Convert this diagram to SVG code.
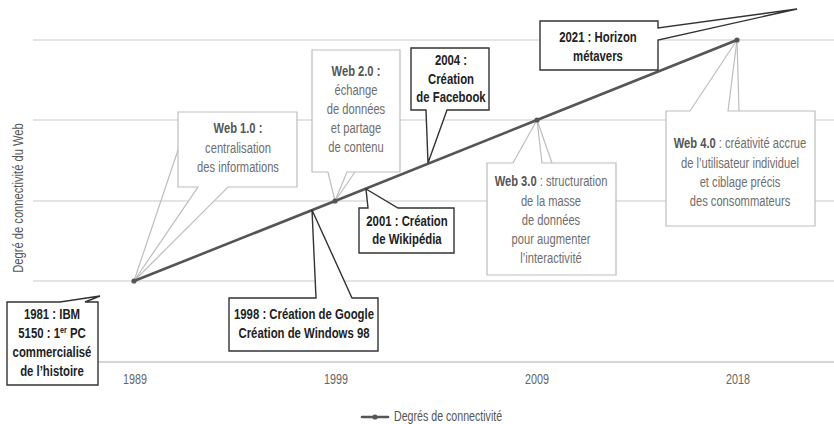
<svg xmlns="http://www.w3.org/2000/svg" width="834" height="424" viewBox="0 0 834 424">
  <style>
    text { font-family: "Liberation Sans", Arial, sans-serif; }
    .grid { stroke: #c9c9c9; stroke-width: 1.2; fill: none; }
    .axis { stroke: #c9c9c9; stroke-width: 1.6; fill: none; }
    .year { font-size: 14px; fill: #666; text-anchor: middle; }
    .ylab { font-size: 14px; fill: #555; text-anchor: middle; }
    .soft { fill: #fff; stroke: #bdbdbd; stroke-width: 1.2; }
    .softline { stroke: #bdbdbd; stroke-width: 1.2; fill: none; }
    .softtxt { font-size: 14.5px; fill: #6e6e6e; text-anchor: middle; }
    .softtxt .b { font-weight: bold; fill: #555; }
    .dark { fill: #fff; stroke: #333; stroke-width: 1.4; }
    .darktxt { font-size: 14.2px; font-weight: bold; fill: #222; text-anchor: middle; }
    .series { stroke: #555; stroke-width: 2.6; fill: none; stroke-linecap: round; }
    .pt { fill: #555; }
    .legend { font-size: 14px; fill: #555; }
  </style>

  <!-- horizontal grid and base axis -->
  <g id="grid">
    <line class="grid" x1="33" y1="40" x2="834" y2="40"/>
    <line class="grid" x1="33" y1="120" x2="834" y2="120"/>
    <line class="grid" x1="33" y1="201" x2="834" y2="201"/>
    <line class="grid" x1="33" y1="281" x2="834" y2="281"/>
    <line class="axis" x1="33" y1="362" x2="834" y2="362"/>
  </g>

  <!-- axis labels (condensed by a horizontal scale about each label's centre) -->
  <g id="axis-labels">
    <text class="ylab" transform="translate(23,198) rotate(-90) scale(0.8,1)">Degré de connectivité du Web</text>
    <g transform="matrix(0.77 0 0 1 31.05 0)"><text class="year" x="135" y="384">1989</text></g>
    <g transform="matrix(0.77 0 0 1 77.28 0)"><text class="year" x="336" y="384">1999</text></g>
    <g transform="matrix(0.77 0 0 1 123.51 0)"><text class="year" x="537" y="384">2009</text></g>
    <g transform="matrix(0.77 0 0 1 169.74 0)"><text class="year" x="738" y="384">2018</text></g>
  </g>

  <!-- Web era callouts (light) -->
  <g id="web1">
    <path class="soft" d="M178,112 H297 V187 H228 L134,281 L198,187 H178 Z"/>
    <line class="softline" x1="178" y1="150" x2="134" y2="281"/>
    <g transform="matrix(0.77 0 0 1 54.74 0)">
      <text class="softtxt" x="238" y="133"><tspan class="b">Web 1.0 :</tspan></text>
      <text class="softtxt" x="238" y="153">centralisation</text>
      <text class="softtxt" x="238" y="172">des informations</text>
    </g>
  </g>

  <g id="web2">
    <path class="soft" d="M312,50 H400 V172 H347 L335,201 L328,172 H312 Z"/>
    <line class="softline" x1="355" y1="172" x2="335" y2="201"/>
    <g transform="matrix(0.77 0 0 1 81.88 0)">
      <text class="softtxt" x="356" y="76"><tspan class="b">Web 2.0 :</tspan></text>
      <text class="softtxt" x="356" y="95">échange</text>
      <text class="softtxt" x="356" y="114">de données</text>
      <text class="softtxt" x="356" y="133">et partage</text>
      <text class="softtxt" x="356" y="152">de contenu</text>
    </g>
  </g>

  <g id="web3">
    <path class="soft" d="M487,163 H513 L537,120 L542,163 H616 V275 H487 Z"/>
    <line class="softline" x1="552" y1="163" x2="537" y2="120"/>
    <g transform="matrix(0.77 0 0 1 126.73 0)">
      <text class="softtxt" x="551" y="186"><tspan class="b">Web 3.0</tspan> : structuration</text>
      <text class="softtxt" x="551" y="206">de la masse</text>
      <text class="softtxt" x="551" y="225">de données</text>
      <text class="softtxt" x="551" y="244">pour augmenter</text>
      <text class="softtxt" x="551" y="263">l’interactivité</text>
    </g>
  </g>

  <g id="web4">
    <path class="soft" d="M666,111 H690 L737,40 L728,111 H815 V226 H666 Z"/>
    <line class="softline" x1="739" y1="111" x2="737" y2="40"/>
    <g transform="matrix(0.77 0 0 1 170.2 0)">
      <text class="softtxt" x="740" y="148"><tspan class="b">Web 4.0</tspan> : créativité accrue</text>
      <text class="softtxt" x="740" y="168">de l’utilisateur individuel</text>
      <text class="softtxt" x="740" y="187">et ciblage précis</text>
      <text class="softtxt" x="740" y="206">des consommateurs</text>
    </g>
  </g>

  <!-- connectivity series -->
  <g id="connectors">
    <polyline class="series" points="134,281 335,201 537,120 737,40"/>
    <circle class="pt" cx="134" cy="281" r="2.6"/>
    <circle class="pt" cx="335" cy="201" r="2.6"/>
    <circle class="pt" cx="537" cy="120" r="2.6"/>
    <circle class="pt" cx="737" cy="40" r="2.6"/>
  </g>

  <!-- event callouts (dark) -->
  <g id="ev1981">
    <path class="dark" d="M7,302 H60 L100,296 L85,302 H98 V385 H7 Z"/>
    <g transform="matrix(0.8 0 0 1 10.4 0)">
      <text class="darktxt" x="52" y="319">1981 : IBM</text>
      <text class="darktxt" x="52" y="338">5150 : 1<tspan font-size="9px" dy="-5">er</tspan><tspan dy="5"> PC</tspan></text>
      <text class="darktxt" x="52" y="357">commercialisé</text>
      <text class="darktxt" x="52" y="376">de l’histoire</text>
    </g>
  </g>

  <g id="ev1998">
    <path class="dark" d="M229,298 H316 L312,210 L352,298 H378 V351 H229 Z"/>
    <g transform="matrix(0.8 0 0 1 60.8 0)">
      <text class="darktxt" x="304" y="319">1998 : Création de Google</text>
      <text class="darktxt" x="304" y="338">Création de Windows 98</text>
    </g>
  </g>

  <g id="ev2001">
    <path class="dark" d="M359,208 H368 L366,189 L398,208 H454 V253 H359 Z"/>
    <g transform="matrix(0.8 0 0 1 81.4 0)">
      <text class="darktxt" x="407" y="226">2001 : Création</text>
      <text class="darktxt" x="407" y="244">de Wikipédia</text>
    </g>
  </g>

  <g id="ev2004">
    <path class="dark" d="M411,48 H489 V110 H447 L428,163 L426,110 H411 Z"/>
    <g transform="matrix(0.8 0 0 1 90.2 0)">
      <text class="darktxt" x="451" y="65">2004 :</text>
      <text class="darktxt" x="451" y="84">Création</text>
      <text class="darktxt" x="451" y="102">de Facebook</text>
    </g>
  </g>

  <g id="ev2021">
    <path class="dark" d="M540,21 H658 V28 L797,9 L658,40 V70 H540 Z"/>
    <g transform="matrix(0.8 0 0 1 119.6 0)">
      <text class="darktxt" x="598" y="42">2021 : Horizon</text>
      <text class="darktxt" x="598" y="61">métavers</text>
    </g>
  </g>

  <!-- legend -->
  <g id="legend">
    <line class="series" x1="362" y1="417" x2="388" y2="417" stroke-width="2"/>
    <circle class="pt" cx="375" cy="417" r="2.6"/>
    <g transform="matrix(0.76 0 0 1 94.56 0)">
      <text class="legend" x="394" y="421">Degrés de connectivité</text>
    </g>
  </g>
</svg>
